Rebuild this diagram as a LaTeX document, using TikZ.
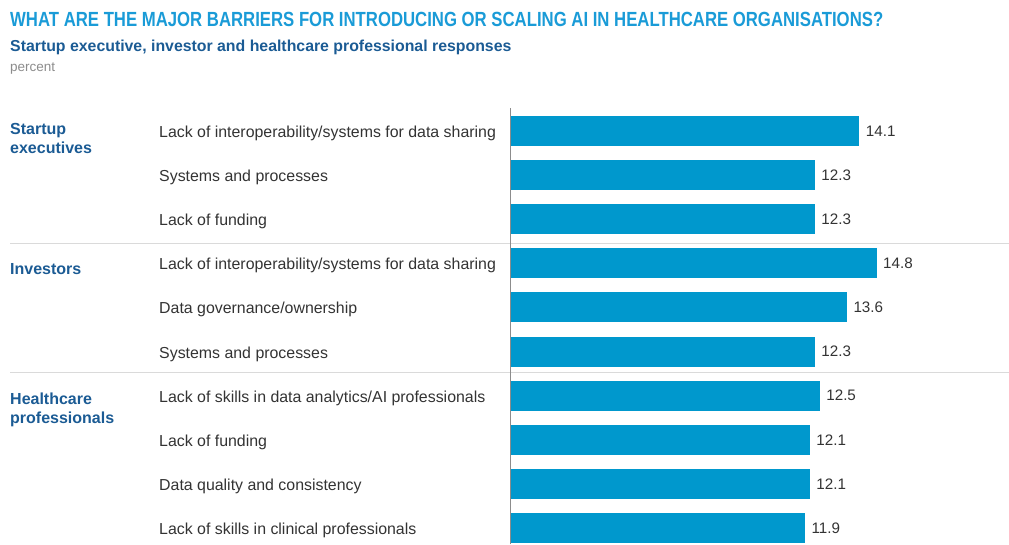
\documentclass[tikz,border=0pt]{standalone}
\usepackage{fontspec}
\setmainfont{Liberation Sans}
\usepackage{graphicx}
\usetikzlibrary{positioning}

\definecolor{titleblue}{HTML}{1A9BD7}
\definecolor{darkblue}{HTML}{1B5B94}
\definecolor{barblue}{HTML}{0098CD}
\definecolor{textgray}{HTML}{333333}
\definecolor{unitgray}{HTML}{8C8C8C}
\definecolor{rulegray}{HTML}{DADADA}

\tikzset{
  bar/.style={rectangle, fill=barblue, inner sep=0pt, minimum height=30pt, anchor=west},
  value/.style={inner sep=0pt, text=textgray, font=\fontsize{15.2}{18}\selectfont},
  catlabel/.style={inner sep=0pt, anchor=base west, text=textgray, font=\fontsize{15.9}{19}\selectfont},
  group/.style={inner sep=0pt, anchor=north west, align=left, text=darkblue, font=\bfseries\fontsize{16}{18.7}\selectfont},
  sepline/.style={draw=rulegray, line width=1pt},
  axisline/.style={draw=unitgray, line width=1pt}
}

\begin{document}
\begin{tikzpicture}[x=1pt,y=-1pt]
  \useasboundingbox (0,0) rectangle (1009,544);
  % Titles
  \node[anchor=base west, inner sep=0pt, text=titleblue] (title) at (10,26)
    {\resizebox{873pt}{14.3pt}{\bfseries WHAT ARE THE MAJOR BARRIERS FOR INTRODUCING OR SCALING AI IN HEALTHCARE ORGANISATIONS?}};
  \node[anchor=base west, inner sep=0pt, text=darkblue, font=\bfseries\fontsize{15.85}{19}\selectfont] (subtitle) at (10,51)
    {Startup executive, investor and healthcare professional responses};
  \node[anchor=base west, inner sep=0pt, text=unitgray, font=\fontsize{13.5}{16}\selectfont] (unit) at (10,71) {percent};
  % Separators
  \foreach \s/\yy in {1/243, 2/372} {
    \coordinate (sep\s l) at (10,\yy);
    \coordinate (sep\s r) at (1009,\yy);
    \draw[sepline] (sep\s l) -- (sep\s r);
  }
  % Bars
  \foreach \i/\lab/\val in {1/{Lack of interoperability/systems for data sharing}/14.1,
                            2/{Systems and processes}/12.3,
                            3/{Lack of funding}/12.3,
                            4/{Lack of interoperability/systems for data sharing}/14.8,
                            5/{Data governance/ownership}/13.6,
                            6/{Systems and processes}/12.3,
                            7/{Lack of skills in data analytics/AI professionals}/12.5,
                            8/{Lack of funding}/12.1,
                            9/{Data quality and consistency}/12.1,
                            10/{Lack of skills in clinical professionals}/11.9} {
    \pgfmathsetmacro\yy{131+44.1*(\i-1)}
    \node[bar, minimum width=\val*24.7pt] (bar\i) at (511,\yy) {};
    \node[value, right=6pt of bar\i] (val\i) {\val};
    \node[catlabel] (lab\i) at (159,\yy+6.5) {\lab};
  }
  % Groups
  \node[group] (grp1) at (10,123.5) {Startup\\executives};
  \node[group] (grp2) at (10,263.5) {Investors};
  \node[group] (grp3) at (10,392.5) {Healthcare\\professionals};
  % Axis
  \coordinate (axtop) at (510,108);
  \coordinate (axbot) at (510,544);
  \draw[axisline] (axtop) -- (axbot);
\end{tikzpicture}
\end{document}
